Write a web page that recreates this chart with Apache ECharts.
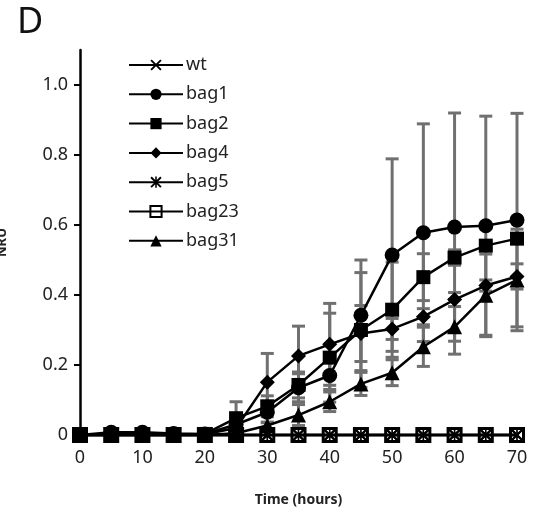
<!DOCTYPE html>
<html>
<head>
<meta charset="utf-8">
<script src="https://cdn.jsdelivr.net/npm/echarts@6/dist/echarts.min.js"></script>
<style>
  html, body { margin: 0; padding: 0; background: #fff; }
  #main { width: 535px; height: 515px; }
</style>
</head>
<body>
<div id="main"></div>
<script>
// time points (hours)
var times = [0, 5, 10, 15, 20, 25, 30, 35, 40, 45, 50, 55, 60, 65, 70];

var wt    = [0, 0, 0, 0, 0, 0, 0, 0, 0, 0, 0, 0, 0, 0, 0];
var bag1  = [0, 0.008, 0.008, 0.004, 0.003, 0.03, 0.065, 0.135, 0.17, 0.342, 0.514, 0.578, 0.594, 0.598, 0.614];
var bag2  = [0, 0.002, 0.002, 0.002, 0.003, 0.048, 0.082, 0.143, 0.221, 0.30, 0.358, 0.451, 0.507, 0.541, 0.561];
var bag4  = [0, 0.002, 0.002, 0.002, 0.002, 0.02, 0.151, 0.226, 0.259, 0.29, 0.303, 0.338, 0.387, 0.427, 0.453];
var bag5  = [0, 0, 0, 0, 0, 0, 0, 0, 0, 0, 0, 0, 0, 0, 0];
var bag23 = [0, 0, 0, 0, 0, 0, 0, 0, 0, 0, 0, 0, 0, 0, 0];
var bag31 = [0, 0, 0, 0, 0, 0.005, 0.027, 0.057, 0.095, 0.146, 0.178, 0.252, 0.309, 0.399, 0.443];

// error (+/-)
var bag1Err  = [0, 0, 0, 0, 0, 0.02, 0.03, 0.04, 0.04, 0.158, 0.275, 0.311, 0.326, 0.313, 0.305];
var bag2Err  = [0, 0, 0, 0, 0, 0.047, 0.03, 0.037, 0.127, 0.164, 0.136, 0.067, 0.022, 0.01, 0.01];
var bag4Err  = [0, 0, 0, 0, 0, 0.01, 0.082, 0.085, 0.117, 0.08, 0.03, 0.023, 0.02, 0.016, 0.036];
var bag31Err = [0, 0, 0, 0, 0, 0, 0.01, 0.03, 0.028, 0.033, 0.037, 0.056, 0.078, 0.118, 0.145];

var yTicks = [0, 0.2, 0.4, 0.6, 0.8, 1.0];

var crossPath = 'path://M0,1.2L1.2,0L5,3.8L8.8,0L10,1.2L6.2,5L10,8.8L8.8,10L5,6.2L1.2,10L0,8.8L3.8,5Z';
var starPath = crossPath + 'M4.3,0L5.7,0L5.7,10L4.3,10Z';

function pairs(ys) {
  return times.map(function (t, i) { return [t, ys[i]]; });
}
function errData(ys, es) {
  var out = [];
  times.forEach(function (t, i) {
    if (es[i] > 0) out.push([t, ys[i] - es[i], ys[i] + es[i]]);
  });
  return out;
}

function errSeries(ys, es) {
  return {
    type: 'custom',
    silent: true,
    z: 1,
    clip: false,
    data: errData(ys, es),
    renderItem: function (params, api) {
      var lo = api.coord([api.value(0), api.value(1)]);
      var hi = api.coord([api.value(0), api.value(2)]);
      var w = 6.5;
      var st = { stroke: '#707070', lineWidth: 3 };
      return {
        type: 'group',
        children: [
          { type: 'line', shape: { x1: lo[0], y1: lo[1], x2: hi[0], y2: hi[1] }, style: st },
          { type: 'line', shape: { x1: hi[0] - w, y1: hi[1], x2: hi[0] + w, y2: hi[1] }, style: st },
          { type: 'line', shape: { x1: lo[0] - w, y1: lo[1], x2: lo[0] + w, y2: lo[1] }, style: st }
        ]
      };
    }
  };
}

function lineSeries(name, ys, symbol, size, itemStyle) {
  return {
    name: name,
    type: 'line',
    data: pairs(ys),
    symbol: symbol,
    symbolSize: size,
    showAllSymbol: true,
    clip: false,
    z: 3,
    lineStyle: { color: '#000', width: 2.5 },
    itemStyle: itemStyle || { color: '#000' },
    emphasis: { disabled: true }
  };
}

var myChart = echarts.init(document.getElementById('main'));
var option = {
  animation: false,
  backgroundColor: '#fff',
  textStyle: { fontFamily: 'Noto Sans' },
  title: {
    text: 'D',
    left: 12,
    top: 0,
    textStyle: { fontSize: 36, fontWeight: 'normal', color: '#111', fontFamily: 'Noto Sans' }
  },
  legend: {
    orient: 'vertical',
    left: 123,
    top: 51,
    itemWidth: 54,
    itemHeight: 14,
    itemGap: 11.3,
    textStyle: { fontSize: 18, color: '#222', lineHeight: 18, padding: [0, 0, 0, -2] },
    data: ['wt', 'bag1', 'bag2', 'bag4', 'bag5', 'bag23', 'bag31']
  },
  grid: { left: 80, right: 18, top: 50, bottom: 80, containLabel: false, outerBoundsMode: 'none' },
  xAxis: {
    type: 'value',
    min: 0,
    max: 70,
    interval: 10,
    name: 'Time (hours)',
    nameLocation: 'middle',
    nameGap: 58,
    nameTextStyle: { fontSize: 14, fontWeight: 'bold', color: '#222' },
    axisLine: { show: true, lineStyle: { color: '#000', width: 2 } },
    axisTick: { show: false },
    splitLine: { show: false },
    axisLabel: { fontSize: 18, color: '#222', margin: 14 }
  },
  yAxis: {
    type: 'value',
    min: 0,
    max: 1.1,
    interval: 0.2,
    name: 'NRU',
    nameLocation: 'middle',
    nameGap: 71,
    nameRotate: 90,
    nameTextStyle: { fontSize: 13, fontWeight: 'bold', color: '#222' },
    axisLine: { show: true, lineStyle: { color: '#000', width: 2.5 } },
    axisTick: { show: true, inside: false, length: 6, lineStyle: { color: '#000', width: 2 }, customValues: yTicks },
    splitLine: { show: false },
    axisLabel: {
      fontSize: 18,
      color: '#222',
      margin: 12,
      customValues: yTicks,
      formatter: function (v) { return v === 0 ? '0' : v.toFixed(1); }
    }
  },
  series: [
    errSeries(bag1, bag1Err),
    errSeries(bag2, bag2Err),
    errSeries(bag4, bag4Err),
    errSeries(bag31, bag31Err),
    lineSeries('wt', wt, crossPath, 12, { color: '#000' }),
    lineSeries('bag1', bag1, 'circle', 15),
    lineSeries('bag2', bag2, 'rect', 14),
    lineSeries('bag4', bag4, 'diamond', 15),
    lineSeries('bag5', bag5, starPath, 12, { color: '#000' }),
    lineSeries('bag23', bag23, 'rect', 13, { color: 'rgba(0,0,0,0)', borderColor: '#000', borderWidth: 3 }),
    lineSeries('bag31', bag31, 'triangle', 15)
  ]
};
myChart.setOption(option);
</script>
</body>
</html>
